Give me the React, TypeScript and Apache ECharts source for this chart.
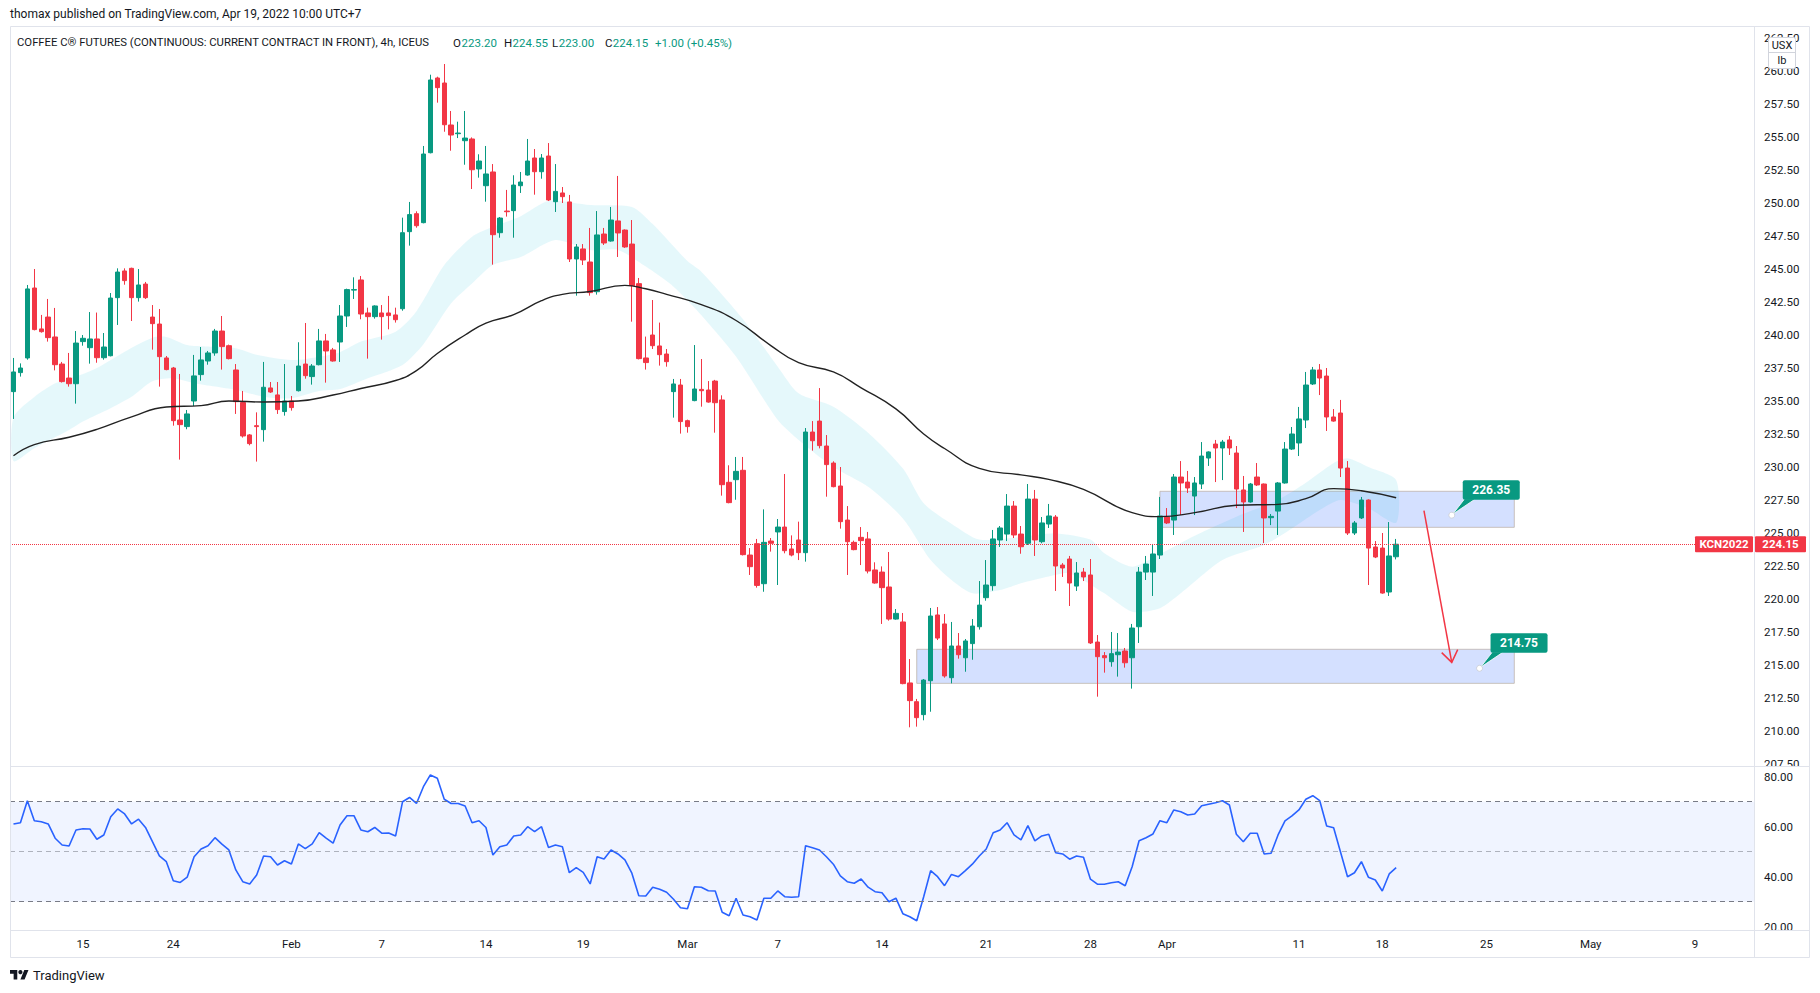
import React, { useEffect, useRef } from 'react';
import * as echarts from 'echarts';

// ---------- DATA ----------
// [open, high, low, close] for each 4h bar, left to right
const candles: [number, number, number, number][] = [
  [235.71, 238.26, 233.64, 237.2], [237.15, 237.85, 236.85, 237.5], [238.26, 243.79, 238.13, 243.49], [243.56, 245.0, 240.35, 240.41],
  [240.46, 241.52, 240.18, 240.25], [241.36, 242.73, 239.5, 239.8], [239.85, 242.05, 237.32, 237.75], [237.8, 237.96, 236.4, 236.47],
  [236.74, 238.64, 236.09, 236.31], [236.31, 240.3, 234.8, 239.39], [239.5, 240.0, 239.19, 239.75], [239.04, 241.74, 237.83, 239.7],
  [239.7, 241.7, 237.9, 238.28], [238.28, 240.15, 238.13, 239.09], [238.43, 243.18, 238.38, 242.8], [242.83, 245.05, 240.76, 244.77],
  [244.85, 245.05, 243.81, 244.12], [245.05, 245.1, 241.06, 242.83], [242.83, 245.0, 242.53, 243.79], [243.86, 244.02, 242.73, 242.83],
  [241.36, 242.27, 238.89, 240.86], [240.83, 241.97, 236.09, 238.36], [238.26, 238.41, 237.33, 237.38], [237.5, 237.58, 233.13, 233.51],
  [233.56, 237.05, 230.56, 233.21], [233.06, 234.32, 232.86, 234.02], [235.0, 238.49, 234.62, 236.9], [237.0, 239.09, 236.54, 238.11],
  [238.03, 238.79, 237.75, 238.64], [238.64, 240.46, 238.43, 240.3], [240.3, 241.44, 237.38, 239.12], [239.19, 239.27, 238.15, 238.21],
  [237.35, 237.8, 234.02, 234.95], [234.88, 235.76, 232.23, 232.35], [232.43, 232.5, 231.64, 231.77], [233.13, 234.14, 230.41, 233.06],
  [232.83, 237.96, 231.92, 236.04], [235.99, 236.44, 235.61, 235.68], [235.46, 236.44, 234.02, 234.35], [234.2, 237.8, 233.89, 235.0],
  [235.0, 235.38, 234.27, 234.5], [235.78, 239.45, 235.72, 237.65], [237.8, 240.91, 236.69, 236.92], [236.85, 237.8, 236.24, 237.65],
  [237.75, 240.46, 237.7, 239.55], [239.55, 240.08, 236.39, 238.79], [238.87, 239.02, 237.98, 238.03], [239.47, 242.27, 237.96, 241.44],
  [241.44, 243.51, 240.61, 243.44], [243.4, 244.37, 242.73, 243.44], [244.17, 244.47, 241.19, 241.59], [241.67, 242.07, 238.21, 241.39],
  [241.39, 242.25, 241.24, 242.2], [241.67, 242.27, 239.65, 241.39], [241.67, 242.96, 240.43, 241.47], [241.52, 242.07, 240.94, 241.16],
  [241.99, 248.89, 241.84, 247.75], [247.83, 250.08, 246.77, 249.12], [249.19, 249.37, 248.13, 248.28], [248.51, 254.32, 248.46, 253.71],
  [253.81, 259.72, 253.76, 259.32], [259.47, 259.57, 257.6, 258.74], [259.09, 260.53, 255.4, 255.93], [255.91, 256.97, 253.96, 255.15],
  [255.25, 256.16, 254.92, 255.3], [254.72, 256.97, 252.9, 254.92], [254.85, 254.97, 251.06, 252.52], [252.58, 253.69, 251.92, 253.18],
  [251.31, 254.32, 250.1, 252.2], [252.35, 252.95, 245.33, 247.6], [247.75, 248.94, 247.37, 248.86], [249.39, 250.99, 248.97, 249.34],
  [249.42, 252.1, 247.37, 251.36], [251.31, 252.35, 250.76, 251.59], [252.12, 254.85, 252.07, 253.18], [253.41, 254.09, 250.63, 252.37],
  [252.37, 253.71, 251.84, 253.41], [253.56, 254.54, 250.15, 250.23], [250.1, 252.95, 249.32, 250.88], [250.76, 251.21, 250.0, 250.48],
  [250.08, 250.61, 245.53, 245.76], [245.76, 246.89, 242.98, 246.67], [246.52, 246.89, 245.3, 245.68], [245.53, 248.11, 242.98, 243.21],
  [243.28, 249.39, 243.06, 247.58], [247.65, 248.11, 246.82, 246.97], [247.12, 249.7, 247.07, 248.71], [248.64, 252.05, 245.91, 247.73],
  [247.95, 248.0, 246.6, 246.67], [246.89, 248.71, 241.01, 243.74], [243.89, 244.32, 238.15, 238.21], [238.26, 239.88, 237.38, 237.91],
  [240.0, 242.65, 238.94, 239.19], [239.17, 240.94, 237.68, 238.51], [238.56, 238.94, 237.6, 237.98], [235.71, 236.67, 233.74, 236.29],
  [236.21, 236.67, 232.53, 233.44], [233.51, 233.59, 232.6, 233.06], [235.03, 239.24, 234.98, 235.91], [235.88, 238.18, 234.57, 235.78],
  [235.83, 236.51, 234.87, 234.92], [236.51, 236.6, 232.6, 234.87], [235.08, 235.43, 227.83, 228.66], [228.84, 230.13, 227.25, 227.3],
  [229.04, 230.76, 227.52, 229.67], [229.75, 230.76, 223.3, 223.36], [223.33, 223.86, 221.82, 222.45], [224.19, 224.55, 220.86, 221.03],
  [221.16, 226.79, 220.55, 224.29], [224.39, 224.62, 223.59, 224.22], [225.08, 226.06, 221.06, 225.45], [225.45, 229.47, 223.46, 223.66],
  [223.79, 224.82, 223.23, 223.33], [224.47, 225.86, 222.95, 223.51], [223.51, 232.95, 222.83, 232.65], [232.65, 233.48, 231.24, 231.99],
  [233.48, 235.98, 231.41, 231.62], [231.59, 232.42, 227.75, 230.18], [230.3, 230.43, 228.46, 228.51], [228.56, 230.0, 225.33, 225.86],
  [225.98, 227.04, 221.82, 224.34], [224.29, 224.42, 223.69, 223.74], [224.67, 225.45, 222.57, 224.42], [224.55, 225.08, 221.94, 222.12],
  [222.2, 222.78, 221.16, 221.21], [222.04, 222.47, 218.11, 220.86], [220.91, 223.56, 218.36, 218.48], [218.48, 219.24, 218.43, 218.91],
  [218.26, 218.94, 213.54, 213.59], [213.64, 215.45, 210.28, 212.3], [212.22, 212.43, 210.33, 211.01], [211.24, 213.94, 210.81, 213.86],
  [213.81, 219.32, 211.46, 218.71], [218.79, 219.39, 216.89, 217.04], [218.11, 218.86, 214.04, 214.17], [214.04, 218.26, 213.61, 216.44],
  [216.44, 217.42, 215.48, 215.78], [215.55, 216.97, 214.49, 216.82], [216.62, 218.48, 215.4, 217.95], [217.9, 221.36, 217.68, 219.54],
  [220.1, 222.95, 219.87, 221.06], [221.01, 225.23, 220.63, 224.55], [224.47, 225.53, 223.94, 225.38], [224.92, 227.95, 224.39, 227.04],
  [227.04, 227.42, 224.62, 224.85], [224.92, 225.53, 223.43, 223.96], [224.22, 228.71, 224.09, 227.57], [227.57, 228.26, 223.26, 224.47],
  [224.34, 226.21, 224.22, 225.76], [225.68, 227.2, 225.38, 226.29], [226.21, 226.36, 220.61, 222.5], [222.57, 222.72, 221.67, 222.35],
  [223.03, 223.26, 219.47, 221.21], [220.98, 222.8, 220.61, 221.97], [222.04, 222.35, 221.36, 221.67], [221.82, 223.03, 216.59, 216.67],
  [216.74, 217.27, 212.6, 215.63], [215.71, 215.98, 214.42, 215.55], [215.25, 217.5, 214.87, 215.86], [215.78, 217.42, 214.12, 215.98],
  [216.06, 216.29, 214.8, 215.17], [215.55, 218.11, 213.21, 217.8], [217.9, 222.42, 216.67, 222.04], [222.04, 223.26, 221.44, 222.65],
  [222.04, 224.17, 220.23, 223.41], [223.33, 227.73, 223.03, 226.29], [226.21, 226.89, 225.68, 225.76], [225.98, 229.47, 224.85, 229.24],
  [229.24, 230.45, 226.36, 228.79], [228.86, 229.7, 228.03, 228.41], [227.8, 229.24, 226.36, 228.79], [228.71, 231.89, 228.33, 230.83],
  [230.68, 231.19, 230.08, 231.14], [231.74, 232.05, 228.86, 231.44], [231.44, 232.05, 229.01, 231.89], [232.05, 232.35, 230.91, 231.44],
  [231.06, 231.59, 226.89, 228.33], [228.26, 229.32, 225.08, 227.35], [227.35, 228.79, 227.3, 228.71], [229.24, 230.3, 228.56, 228.64],
  [228.71, 228.75, 224.24, 226.14], [226.16, 226.44, 225.6, 226.26], [226.66, 228.86, 224.85, 228.79], [228.79, 231.89, 228.74, 231.36],
  [231.36, 233.03, 231.29, 232.5], [231.82, 234.55, 230.83, 233.64], [233.56, 237.2, 232.95, 236.21], [236.29, 237.58, 236.21, 237.35],
  [237.35, 237.8, 235.45, 236.74], [236.89, 237.5, 232.73, 233.79], [233.79, 234.39, 233.43, 233.48], [234.09, 235.08, 229.24, 229.92],
  [229.92, 230.45, 224.85, 225.0], [225.0, 225.91, 224.85, 225.76], [226.14, 227.73, 226.06, 227.5], [227.5, 227.55, 221.06, 223.86],
  [223.94, 224.39, 223.1, 223.18], [223.86, 225.0, 220.4, 220.45], [220.53, 225.83, 220.23, 223.26], [223.2, 224.55, 223.0, 224.15],
];

// RSI value at each bar
const rsiValues: number[] = [
  61.1, 61.6, 70.4, 62.4, 62.0, 61.1, 55.4, 52.7, 52.3, 58.7,
  59.2, 59.1, 55.0, 56.7, 64.0, 67.1, 65.1, 61.1, 63.0, 59.7,
  54.0, 48.3, 46.0, 38.4, 37.7, 39.8, 48.0, 51.1, 52.4, 55.6,
  53.0, 50.7, 42.7, 38.0, 37.1, 40.7, 48.3, 48.0, 44.7, 46.4,
  45.1, 53.1, 51.2, 53.1, 57.6, 55.4, 53.4, 60.7, 64.4, 64.4,
  58.7, 58.0, 59.7, 57.4, 57.5, 56.3, 70.0, 71.7, 69.3, 76.0,
  80.7, 79.4, 71.0, 69.3, 69.3, 68.3, 61.6, 62.4, 59.7, 48.7,
  52.0, 52.7, 56.3, 56.7, 60.0, 58.0, 60.0, 51.7, 52.7, 52.0,
  41.6, 43.6, 41.7, 37.1, 48.0, 47.1, 50.7, 49.1, 46.7, 41.4,
  32.4, 32.3, 35.8, 35.0, 33.8, 31.0, 27.6, 27.2, 36.0, 35.8,
  34.4, 34.3, 25.8, 24.4, 31.4, 24.7, 24.0, 22.7, 31.4, 31.4,
  34.3, 32.0, 31.8, 32.0, 52.4, 51.6, 50.7, 48.0, 45.0, 40.3,
  38.0, 37.4, 39.1, 35.8, 34.0, 33.6, 30.0, 31.4, 25.2, 24.0,
  22.4, 32.0, 42.4, 40.0, 36.4, 40.9, 40.0, 42.4, 45.0, 48.3,
  51.1, 57.6, 58.7, 61.6, 56.7, 54.7, 60.4, 54.3, 56.3, 57.0,
  49.6, 49.1, 47.0, 48.3, 47.8, 39.0, 37.0, 37.0, 37.6, 38.0,
  36.4, 44.0, 54.4, 55.6, 57.1, 62.4, 61.6, 66.7, 66.0, 64.7,
  65.1, 68.4, 69.0, 69.6, 70.4, 68.7, 57.0, 54.0, 57.4, 57.4,
  49.1, 49.4, 56.7, 62.3, 64.3, 66.7, 71.0, 72.4, 70.4, 60.3,
  59.6, 49.8, 40.0, 41.6, 46.0, 39.8, 38.7, 34.3, 41.1, 43.6,
];

// moving average (black line): [bar, value]
const maPoints: [number, number][] = [
  [0, 230.85], [3, 231.7], [8, 232.25], [12, 232.85], [17, 233.8], [22, 234.55], [27, 234.65], [31, 235.0],
  [36, 234.92], [41, 235.0], [46, 235.45], [50, 235.95], [55, 236.55], [58, 237.3], [61, 238.6], [65, 240.0],
  [68, 240.9], [72, 241.55], [76, 242.6], [79, 243.08], [83, 243.3], [88, 243.76], [91, 243.5], [94, 243.08],
  [99, 242.3], [104, 241.1], [109, 239.2], [113, 237.9], [118, 237.2], [122, 236.0], [127, 234.4], [131, 232.5],
  [134, 231.4], [139, 229.9], [145, 229.4], [149, 229.06], [154, 228.3], [161, 226.54], [165, 226.24], [170, 226.54],
  [176, 227.1], [182, 227.17], [186, 227.6], [190, 228.36], [194, 228.2], [199, 227.67],
];

// cyan ribbon edges: [bar, value]
const ribbonUpper: [number, number][] = [
  [0, 233.75], [3, 235.3], [6, 236.34], [10, 237.05], [12, 237.5], [16, 238.74], [20, 239.8], [22, 239.85],
  [25, 239.24], [28, 239.12], [32, 239.0], [35, 238.5], [40, 238.1], [44, 238.36], [47, 238.7], [50, 239.5],
  [55, 240.25], [58, 241.8], [62, 245.3], [66, 247.45], [69, 248.2], [73, 249.0], [77, 250.15], [83, 249.85],
  [89, 249.7], [92, 248.4], [97, 245.6], [99, 244.8], [105, 241.2], [110, 237.6], [113, 235.58], [118, 234.57],
  [123, 232.6], [128, 229.9], [131, 227.25], [135, 225.7], [139, 224.5], [145, 224.7], [150, 224.97], [155, 224.5],
  [157, 223.46], [161, 222.45], [165, 223.4], [170, 224.8], [176, 226.24], [182, 227.5], [186, 228.8], [190, 230.3],
  [192, 230.66], [195, 230.0], [199, 229.0],
];
const ribbonLower: [number, number][] = [
  [0, 230.45], [3, 231.42], [8, 232.8], [10, 233.44], [13, 234.2], [17, 235.33], [20, 236.5], [23, 236.72],
  [26, 236.34], [29, 236.09], [32, 235.83], [36, 235.33], [40, 235.2], [44, 235.75], [47, 235.9], [51, 236.72],
  [56, 237.73], [59, 239.3], [63, 242.4], [66, 243.9], [69, 245.3], [73, 245.9], [78, 247.2], [83, 246.44],
  [87, 246.44], [91, 245.18], [95, 243.66], [99, 241.5], [104, 238.36], [110, 233.56], [113, 232.05], [118, 230.0],
  [123, 228.5], [128, 226.1], [132, 222.95], [135, 221.44], [138, 220.43], [142, 220.68], [145, 221.19], [149, 221.7],
  [152, 221.94], [157, 220.43], [161, 219.04], [165, 219.3], [168, 220.43], [174, 222.95], [180, 224.09], [184, 225.35],
  [188, 226.74], [191, 227.5], [195, 226.87], [199, 225.78],
];

// time axis tick labels and the bar they sit on
const dateLabels = ['15', '24', 'Feb', '7', '14', '19', 'Mar', '7', '14', '21', '28', 'Apr', '11', '18', '25', 'May', '9'];
const dateLabelBars = [10, 23, 40, 53, 68, 82, 97, 110, 125, 140, 155, 166, 185, 197, 212, 227, 242];
const TOTAL_SLOTS = 251; // bars + empty future space

// drawn zones [fromBar, toBar, top, bottom]
const zones: [number, number, number, number][] = [
  [165, 216, 228.16, 225.43],
  [130, 216, 216.19, 213.61],
];
// target labels [bar, price]
const targets: [number, number][] = [
  [207, 226.35],
  [211, 214.75],
];
// arrow [bar, price] from -> to
const arrowFrom: [number, number] = [203, 226.7];
const arrowTo: [number, number] = [207, 215.2];

const lastPrice = 224.15;
const symbolCode = 'KCN2022';
const headerTitle = 'COFFEE C\u00AE FUTURES (CONTINUOUS: CURRENT CONTRACT IN FRONT), 4h, ICEUS';
const publishLine = 'thomax published on TradingView.com, Apr 19, 2022 10:00 UTC+7';
const ohlcLabels = ['O', 'H', 'L', 'C'];
const ohlcValues = ['223.20', '224.55', '223.00', '224.15'];
const changeText = '+1.00 (+0.45%)';

// ---------- STYLE ----------
const FONT = 'Roboto, "Noto Sans", "DejaVu Sans", sans-serif';
const TEXT = '#131722';
const UP = '#089981';
const DOWN = '#f23645';
const BORDER = '#e0e3eb';

try {
  echarts.graphic.registerShape(
    'tvlogo',
    echarts.graphic.extendPath('M14 22H7V11H0V4h14v18zM28 22h-8l7.5-18h8L28 22z', {}) as any
  );
} catch (e) {
  /* already registered */
}

function txt(x: number, y: number, text: string, o: any = {}) {
  return {
    type: 'text',
    x,
    y,
    z: 100,
    silent: true,
    style: {
      text,
      fill: o.fill ?? TEXT,
      fontSize: o.size ?? 11.5,
      fontFamily: FONT,
      fontWeight: o.weight ?? 'normal',
      textAlign: o.align ?? 'left',
      align: o.align ?? 'left',
      textVerticalAlign: 'middle',
      verticalAlign: 'middle',
    },
  };
}

export default function App() {
  const ref = useRef<HTMLDivElement>(null);

  useEffect(() => {
    document.body.style.margin = '0';
    const chart = echarts.init(ref.current!, null, { renderer: 'svg' });
    const cats = Array.from({ length: TOTAL_SLOTS }, (_, i) => String(i));
    const labelMap: Record<number, string> = {};
    dateLabelBars.forEach((b, k) => (labelMap[b] = dateLabels[k]));

    const option: any = {
      animation: false,
      backgroundColor: '#ffffff',
      grid: [
        { left: 10, top: 38, width: 1744, height: 726 },
        { left: 10, top: 776.7, width: 1744, height: 150 },
      ],
      xAxis: [
        { type: 'category', gridIndex: 0, data: cats, boundaryGap: true, show: false },
        {
          type: 'category',
          gridIndex: 1,
          data: cats,
          boundaryGap: true,
          axisLine: { show: false },
          axisTick: { show: false },
          splitLine: { show: false },
          axisLabel: {
            interval: (idx: number) => labelMap[idx] !== undefined,
            formatter: (_v: string, idx: number) => labelMap[idx] ?? '',
            color: TEXT,
            fontSize: 11.5,
            fontFamily: FONT,
            margin: 11,
          },
        },
      ],
      yAxis: [
        {
          type: 'value',
          gridIndex: 0,
          position: 'right',
          min: 207.5,
          max: 262.5,
          interval: 2.5,
          splitLine: { show: false },
          axisLine: { show: false },
          axisTick: { show: false },
          axisLabel: {
            margin: 10,
            color: TEXT,
            fontSize: 11.5,
            fontFamily: FONT,
            formatter: (v: number) => v.toFixed(2),
          },
        },
        {
          type: 'value',
          gridIndex: 1,
          position: 'right',
          min: 20,
          max: 80,
          interval: 20,
          splitLine: { show: false },
          axisLine: { show: false },
          axisTick: { show: false },
          axisLabel: {
            margin: 10,
            color: TEXT,
            fontSize: 11.5,
            fontFamily: FONT,
            formatter: (v: number) => v.toFixed(2),
          },
        },
      ],
      series: [
        {
          type: 'custom',
          xAxisIndex: 0,
          yAxisIndex: 0,
          z: 1,
          silent: true,
          data: [[0, ribbonUpper[0][1]]],
          renderItem: (params: any, api: any) => {
            if (params.dataIndex !== 0) return null;
            const pts: number[][] = [];
            ribbonUpper.forEach((p) => pts.push(api.coord(p)));
            for (let k = ribbonLower.length - 1; k >= 0; k--) pts.push(api.coord(ribbonLower[k]));
            return {
              type: 'polygon',
              shape: { points: pts, smooth: 0.25 },
              style: { fill: 'rgba(0,188,212,0.1)', stroke: 'none' },
            };
          },
        },
        {
          type: 'candlestick',
          xAxisIndex: 0,
          yAxisIndex: 0,
          z: 3,
          barWidth: 5,
          data: candles.map(([o, h, l, c]) => [o, c, l, h]),
          itemStyle: {
            color: UP,
            color0: DOWN,
            borderColor: UP,
            borderColor0: DOWN,
            borderWidth: 1,
          },
          markLine: {
            silent: true,
            symbol: ['none', 'none'],
            label: { show: false },
            lineStyle: { color: DOWN, type: 'dotted', width: 1 },
            data: [{ yAxis: lastPrice }],
          },
          markArea: {
            silent: true,
            itemStyle: {
              color: 'rgba(41,98,255,0.2)',
              borderColor: 'rgba(185,175,165,0.75)',
              borderWidth: 1,
            },
            data: zones.map(([a, b, t, bt]) => [{ coord: [a, t] }, { coord: [b, bt] }]),
          },
        },
        {
          type: 'line',
          xAxisIndex: 0,
          yAxisIndex: 0,
          z: 4,
          data: maPoints,
          smooth: true,
          showSymbol: false,
          symbol: 'none',
          lineStyle: { color: '#222222', width: 1.4 },
          silent: true,
        },
        {
          type: 'line',
          xAxisIndex: 1,
          yAxisIndex: 1,
          z: 4,
          data: rsiValues,
          symbol: 'none',
          showSymbol: false,
          clip: false,
          lineStyle: { color: '#2962ff', width: 1.6 },
          silent: true,
          markArea: {
            silent: true,
            itemStyle: { color: 'rgba(41,98,255,0.07)' },
            data: [[{ yAxis: 70 }, { yAxis: 30 }]],
          },
          markLine: {
            silent: true,
            symbol: ['none', 'none'],
            label: { show: false },
            data: [
              { yAxis: 70, lineStyle: { color: '#787b86', type: [5, 4], width: 1 } },
              { yAxis: 50, lineStyle: { color: 'rgba(120,123,134,0.55)', type: [5, 4], width: 1 } },
              { yAxis: 30, lineStyle: { color: '#787b86', type: [5, 4], width: 1 } },
            ],
          },
        },
      ],
    };

    chart.setOption(option);

    const px = (bar: number, price: number) =>
      chart.convertToPixel({ gridIndex: 0 } as any, [bar, price]) as unknown as number[];

    const els: any[] = [];
    const line = (x1: number, y1: number, x2: number, y2: number, stroke = BORDER, w = 1, z = 110) =>
      els.push({ type: 'line', z, silent: true, shape: { x1, y1, x2, y2 }, style: { stroke, lineWidth: w } });

    // masks for clipped axis labels
    els.push({ type: 'rect', z: 105, silent: true, shape: { x: 1755, y: 767, width: 53, height: 3.6 }, style: { fill: '#fff' } });
    els.push({ type: 'rect', z: 105, silent: true, shape: { x: 1755, y: 931, width: 53, height: 4 }, style: { fill: '#fff' } });

    // frame
    line(10.5, 26.5, 1809.5, 26.5);
    line(10.5, 26.5, 10.5, 957.5);
    line(1809.5, 26.5, 1809.5, 957.5);
    line(10.5, 957.5, 1809.5, 957.5);
    line(10.5, 766.5, 1809.5, 766.5);
    line(10.5, 930.5, 1809.5, 930.5);
    line(1754.5, 26.5, 1754.5, 957.5);

    // header
    els.push(txt(10, 13.5, publishLine, { size: 12 }));
    els.push(txt(17, 42.5, headerTitle, { size: 11.3 }));
    const ohlcX = [453, 504, 552, 605];
    const ohlcValX = [461.5, 512.5, 558.8, 612.8];
    ohlcLabels.forEach((l, k) => {
      els.push(txt(ohlcX[k], 42.5, l, { size: 11.5 }));
      els.push(txt(ohlcValX[k], 42.5, ohlcValues[k], { size: 11.5, fill: UP }));
    });
    els.push(txt(655, 42.5, changeText, { size: 11.5, fill: UP }));

    // unit box
    els.push({ type: 'rect', z: 120, silent: true, shape: { x: 1768.5, y: 37.5, width: 27, height: 31, r: 2 }, style: { fill: '#fff', stroke: '#d1d4dc', lineWidth: 1 } });
    line(1768.5, 52.5, 1795.5, 52.5, '#d1d4dc', 1, 121);
    els.push({ ...txt(1782, 45, 'USX', { size: 11, align: 'center' }), z: 122 });
    els.push({ ...txt(1782, 60.5, 'lb', { size: 11, align: 'center' }), z: 122 });

    // last price labels
    const [, ly] = px(0, lastPrice);
    els.push({ type: 'rect', z: 115, silent: true, shape: { x: 1695, y: ly - 8, width: 58, height: 16, r: 1 }, style: { fill: DOWN } });
    els.push({ type: 'rect', z: 115, silent: true, shape: { x: 1755, y: ly - 8, width: 51, height: 16, r: 1 }, style: { fill: DOWN } });
    els.push({ ...txt(1724, ly, symbolCode, { size: 11.5, weight: 'bold', fill: '#fff', align: 'center' }), z: 116 });
    els.push({ ...txt(1780.5, ly, lastPrice.toFixed(2), { size: 11.5, weight: 'bold', fill: '#fff', align: 'center' }), z: 116 });

    // target labels
    targets.forEach(([bar, price]) => {
      const [dx, dy] = px(bar, price);
      els.push({ type: 'polygon', z: 101, silent: true, shape: { points: [[dx + 1, dy - 1], [dx + 13, dy - 16.5], [dx + 24, dy - 16.5]] }, style: { fill: UP, stroke: '#ffffff', lineWidth: 0.8 } });
      els.push({ type: 'rect', z: 102, silent: true, shape: { x: dx + 11, y: dy - 35, width: 57, height: 19.5, r: 2 }, style: { fill: UP } });
      els.push({ ...txt(dx + 39.5, dy - 25, price.toFixed(2), { size: 12, weight: 'bold', fill: '#fff', align: 'center' }), z: 103 });
      els.push({ type: 'circle', z: 103, silent: true, shape: { cx: dx, cy: dy, r: 3 }, style: { fill: '#ffffff', stroke: '#cfd3dc', lineWidth: 1 } });
    });

    // arrow
    const [sx, sy] = px(arrowFrom[0], arrowFrom[1]);
    const [tx, ty] = px(arrowTo[0], arrowTo[1]);
    const ang = Math.atan2(ty - sy, tx - sx);
    const L = 14;
    const sp = 0.62;
    els.push({ type: 'line', z: 101, silent: true, shape: { x1: sx, y1: sy, x2: tx, y2: ty }, style: { stroke: '#f23645', lineWidth: 1.5 } });
    els.push({
      type: 'polyline',
      z: 101,
      silent: true,
      shape: {
        points: [
          [tx - L * Math.cos(ang - sp), ty - L * Math.sin(ang - sp)],
          [tx, ty],
          [tx - L * Math.cos(ang + sp), ty - L * Math.sin(ang + sp)],
        ],
      },
      style: { stroke: '#f23645', lineWidth: 1.5, fill: 'none' },
    });

    // footer logo
    els.push({ type: 'tvlogo', z: 100, silent: true, x: 10, y: 968, scaleX: 0.52, scaleY: 0.52, style: { fill: TEXT } });
    els.push({ type: 'circle', z: 100, silent: true, shape: { cx: 10 + 20 * 0.52, cy: 968 + 8 * 0.52, r: 4 * 0.52 }, style: { fill: TEXT } });
    els.push(txt(33, 975.5, 'TradingView', { size: 13 }));

    chart.setOption({ graphic: { elements: els } });

    return () => chart.dispose();
  }, []);

  return <div ref={ref} style={{ position: 'fixed', left: 0, top: 0, width: 1820, height: 993 }} />;
}
